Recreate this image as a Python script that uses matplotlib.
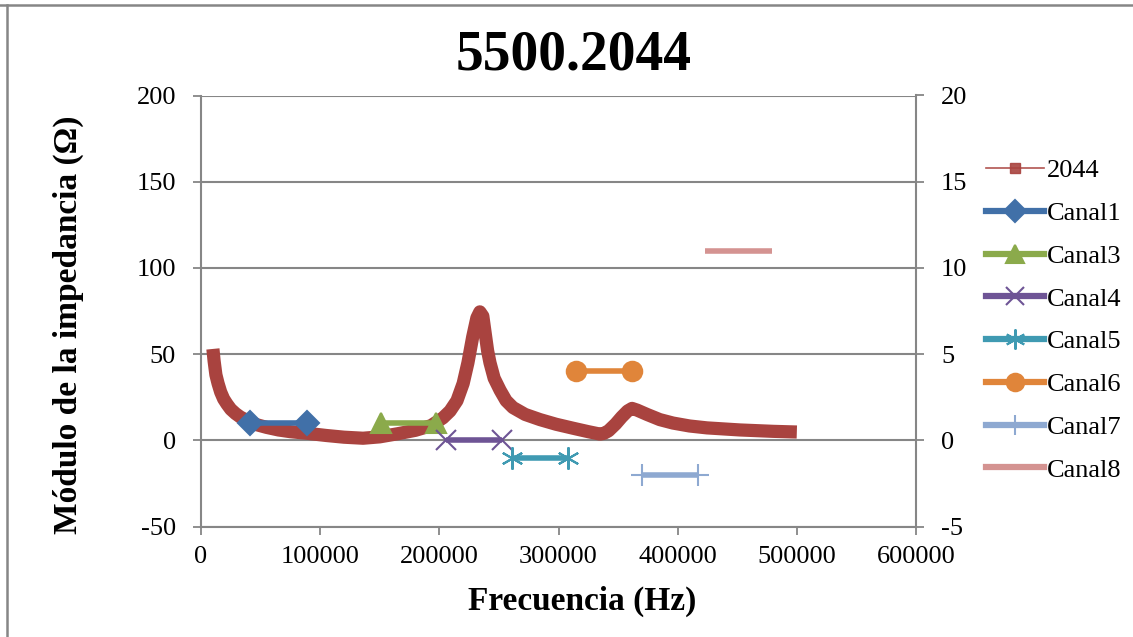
#Impedance curve of the 5500.2044 unit with the channel bands on a second axis

import numpy as np
import matplotlib.pyplot as plt
from matplotlib.lines import Line2D

plt.rcParams['font.family'] = ['Liberation Serif', 'DejaVu Serif']
plt.rcParams['axes.unicode_minus'] = False

#Measured impedance module (Ohm) vs frequency (Hz)
freq = [10000, 11000, 12500, 14300, 16500, 19000, 21800, 25000, 29000, 33000,
        40000, 47000, 55000, 65000, 75000, 90000, 105000, 120000, 136000, 150000,
        165000, 180000, 193000, 203000, 209000, 214800, 220000, 224000, 228000,
        231500, 234000, 236500, 238500, 240500, 242500, 246000, 251000, 256000,
        261800, 272000, 284500, 298000, 312200, 325000, 334800, 338000, 342000,
        348000, 353000, 358000, 361700, 366000, 374300, 385000, 396100, 410000,
        424600, 452300, 480000, 500000]
impedance = [53, 46, 38, 33, 28, 24, 21, 18, 15.5, 13.5,
             11, 9, 7.5, 6, 5, 4, 2.8, 1.8, 1.2, 2,
             3.8, 5.8, 8.5, 13, 17, 23, 33, 45, 60,
             71, 74.5, 72, 62, 52, 45, 36, 29, 23,
             19, 15, 12, 9.3, 7, 5, 3.6, 4, 5.5,
             9.5, 13.5, 17, 18.5, 17.5, 15, 12, 10, 8.3,
             7.2, 6, 5.2, 4.8]

#Channel bands: start/end frequency and level on the right axis
canales = ['Canal1', 'Canal3', 'Canal4', 'Canal5', 'Canal6', 'Canal7', 'Canal8']
canal_inicio = [41000, 151000, 206000, 261000, 315000, 370000, 423000]
canal_fin = [89000, 197000, 253000, 308000, 362000, 417000, 479000]
canal_nivel = [1, 1, 0, -1, 4, -2, 11]

colores = ['#4170A8', '#8BAA4B', '#6E5495', '#3F9AB2', '#E0853A', '#8EA9D1', '#D49391']
marcadores = ['D', '^', 'x', (6, 2, 0), 'o', '+', None]
tam_marcador = [12, 14, 14, 16, 14, 16, 0]
rojo = '#A9433F'
gris = '#868686'

fig = plt.figure(figsize=(11.33, 6.37), dpi=100)
ax = fig.add_axes([201/1133, 1 - 526.5/637, 715/1133, 431/637])
ax2 = ax.twinx()

ax.plot(freq, impedance, color=rojo, lw=9.5, solid_capstyle='butt',
        solid_joinstyle='round', zorder=3)

for nombre, x0, x1, y, c, m, ms in zip(canales, canal_inicio, canal_fin,
                                      canal_nivel, colores, marcadores, tam_marcador):
    ax2.plot([x0, x1], [y, y], color=c, lw=4, marker=m, markersize=ms,
             markeredgewidth=1.5, solid_capstyle='butt')

ax.set_xlim(0, 600000)
ax.set_ylim(-50, 200)
ax2.set_ylim(-5, 20)
ax.set_xticks(np.arange(0, 600001, 100000))
ax.set_yticks(np.arange(-50, 201, 50))
ax2.set_yticks(np.arange(-5, 21, 5))
ax.yaxis.grid(True, color=gris, lw=1.5)
ax.set_axisbelow(True)
ax.set_zorder(ax2.get_zorder() - 1)
ax.patch.set_visible(False)

for a in (ax, ax2):
    for s in a.spines.values():
        s.set_visible(False)
    a.tick_params(length=6, width=1.3, color=gris, labelsize=19, pad=12)
ax.spines['left'].set_visible(True)
ax.spines['bottom'].set_visible(True)
ax2.spines['right'].set_visible(True)
for s in ('left', 'bottom'):
    ax.spines[s].set_color(gris)
    ax.spines[s].set_linewidth(1.5)
ax2.spines['right'].set_color(gris)
ax2.spines['right'].set_linewidth(1.5)
ax.tick_params(axis='x', pad=8)

ax.set_xlabel('Frecuencia (Hz)', fontsize=24, fontweight='bold')
ax.set_ylabel('Módulo de la impedancia (Ω)', fontsize=24, fontweight='bold')
ax.xaxis.set_label_coords(0.533, -0.138)
ax.yaxis.set_label_coords(-0.164, 0.4675)
fig.text(574/1133, 1 - 55/637, '5500.2044', fontsize=40, fontweight='bold',
         ha='center', va='center')

#Legend: thin line with square marker for the measured series
handles = [Line2D([], [], color=rojo, lw=1.2, marker='s', markersize=7, alpha=0.9)]
for c, m, ms in zip(colores, marcadores, tam_marcador):
    handles.append(Line2D([], [], color=c, lw=4.5, marker=m, markersize=ms * 0.9,
                          markeredgewidth=1.5))
fig.legend(handles, ['2044'] + canales, loc='upper left',
           bbox_to_anchor=(986/1133, 1 - 159/637), frameon=False, fontsize=19,
           handlelength=2.2, handletextpad=0.1, labelspacing=0.73,
           borderaxespad=0, borderpad=0)

#Chart frame lines
fig.add_artist(Line2D([0, 1], [1 - 5/637, 1 - 5/637], color=gris, lw=1.8))
fig.add_artist(Line2D([7/1133, 7/1133], [0, 1 - 5/637], color=gris, lw=1.8))

fig.savefig('out.png', dpi=100)
